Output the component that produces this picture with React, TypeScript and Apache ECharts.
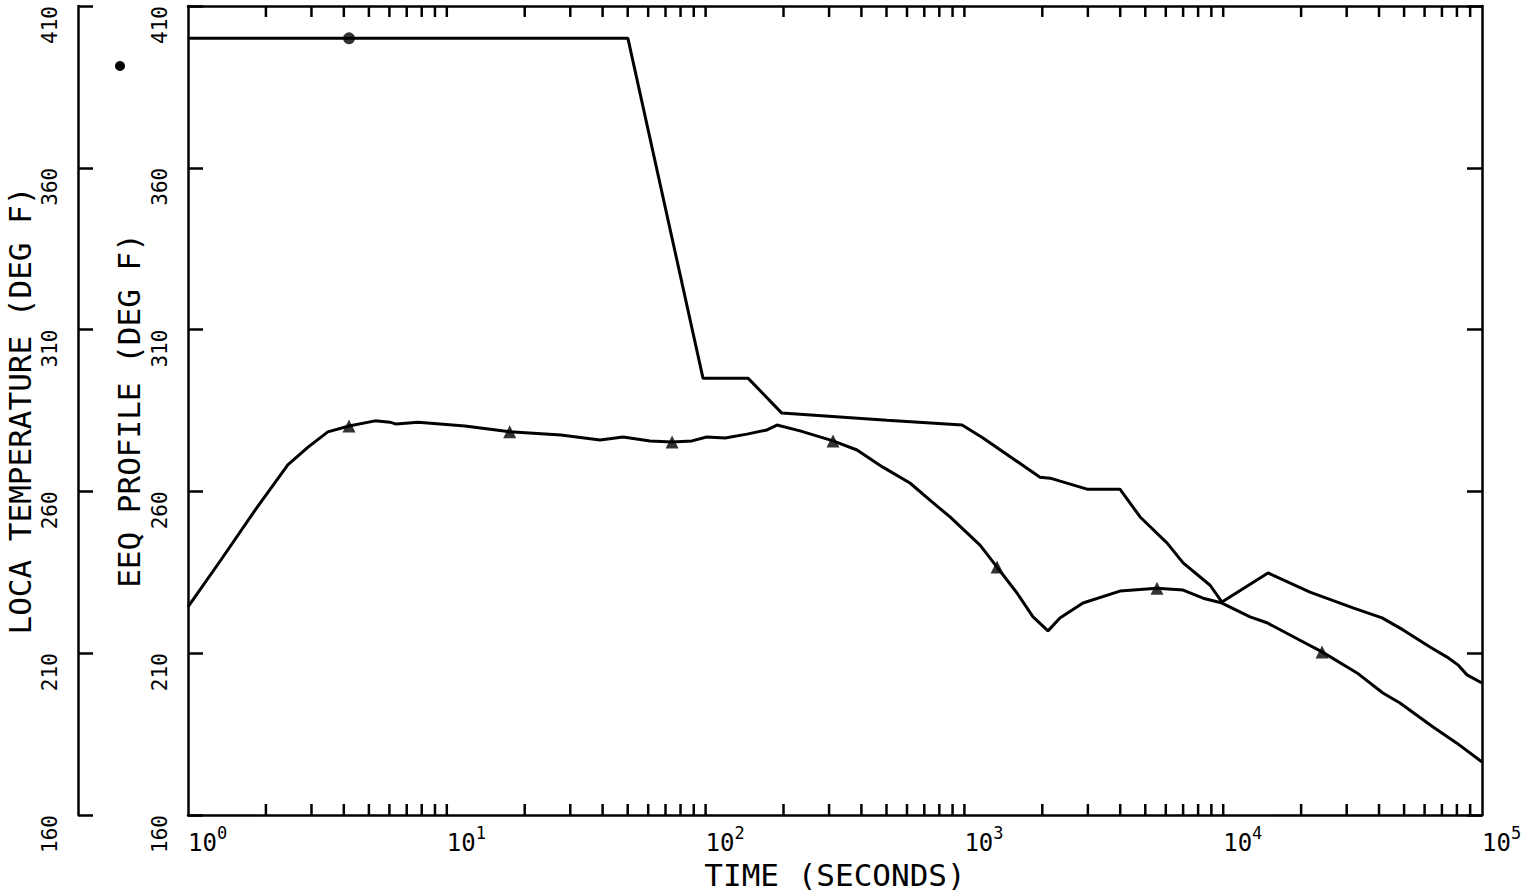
import React, { useEffect, useRef } from "react";
import * as echarts from "echarts";

const FONT = "DejaVu Sans Mono";
const Y_MIN = 160;
const Y_MAX = 410;
const Y_STEP = 50;
const X_MIN = 1;
const X_MAX = 100000;

// EEQ profile (upper curve) [time s, deg F]
const eeqProfile: [number, number][] = [
  [1, 400], [50.1, 400], [97.7, 295], [145.8, 295], [197, 284.2], [502, 282],
  [980, 280.5], [1180, 276.5], [1959, 264.4], [2143, 264.1], [2979, 260.7],
  [3990, 260.7], [4776, 252.1], [6073, 244], [7000, 237.9], [8900, 231],
  [9890, 225.8], [14900, 234.8], [21640, 228.9], [31740, 224], [41100, 220.9],
  [49570, 217.2], [62950, 211.9], [73300, 208.8], [80700, 206.4], [87500, 203.3],
  [100000, 200.8],
];

// LOCA temperature (lower curve)
const locaTemp: [number, number][] = [
  [1, 224.3], [1.34, 238.8], [1.82, 254.3], [2.43, 268.2], [2.91, 273.7],
  [3.47, 278.4], [4.19, 280.2], [5.28, 281.8], [6.03, 281.4], [6.37, 280.8],
  [7.74, 281.4], [11.75, 280.2], [17.5, 278.4], [27.6, 277.4], [39.1, 275.9],
  [48, 276.8], [61, 275.6], [74.2, 275.3], [88.6, 275.6], [101, 276.8],
  [119, 276.5], [144.5, 277.7], [172.7, 279], [188.7, 280.5], [231.7, 278.7],
  [310.7, 275.6], [384.6, 272.8], [484, 267.5], [616, 262.6], [736, 257.3],
  [880, 252.1], [1149, 243.4], [1337, 236.6], [1597, 228.6], [1842, 221.2],
  [2104, 216.9], [2340, 220.9], [2872, 225.5], [3990, 229.2], [5550, 230.1],
  [7000, 229.5], [8360, 227], [9890, 225.5], [12700, 221.2], [14760, 219.4],
  [19800, 214], [24100, 210.4], [32900, 203.9], [41400, 197.7], [48200, 194.6],
  [64700, 187.2], [80000, 182.2], [100000, 176.4],
];

const eeqMarkers: [number, number][] = [[4.19, 400]];
const locaMarkers: [number, number][] = [
  [4.19, 280.2], [17.5, 278.4], [74.2, 275.3], [310.7, 275.6],
  [1337, 236.6], [5550, 230.1], [24100, 210.4],
];

const decades = [1, 10, 100, 1000, 10000];
const multipliers = [1, 2, 3, 4, 5, 6, 7, 8, 9];
const xTicks: number[] = [];
decades.forEach((d) => multipliers.forEach((m) => {
  const v = d * m;
  if (v > X_MIN && v < X_MAX) xTicks.push(v);
}));

const yAxisCommon = {
  type: "value",
  min: Y_MIN,
  max: Y_MAX,
  interval: Y_STEP,
  splitLine: { show: false },
  axisLine: { show: true, lineStyle: { color: "#000", width: 2.5 } },
  axisTick: { show: true, inside: true, length: 15, lineStyle: { color: "#000", width: 2.5 } },
  axisLabel: {
    show: true,
    rotate: 90,
    align: "right",
    verticalAlign: "bottom",
    margin: 18,
    color: "#000",
    fontFamily: FONT,
    fontSize: 21,
  },
  nameLocation: "middle",
  nameRotate: 90,
  nameMoveOverlap: false,
  nameTextStyle: { color: "#000", fontFamily: FONT, fontSize: 31 },
};

export default function App() {
  const ref = useRef<HTMLDivElement>(null);
  useEffect(() => {
    if (!ref.current) return;
    const chart = echarts.init(ref.current, undefined, { renderer: "svg" });
    chart.setOption({
      animation: false,
      backgroundColor: "#fff",
      grid: { left: 188, right: 39, top: 6, bottom: 81, containLabel: false, outerBoundsMode: "none" },
      xAxis: [
        {
          type: "log",
          logBase: 10,
          min: X_MIN,
          max: X_MAX,
          position: "bottom",
          splitLine: { show: false },
          axisLine: { show: true, lineStyle: { color: "#000", width: 2.5 } },
          axisTick: { show: false },
          axisLabel: {
            show: true,
            align: "left",
            margin: 9,
            formatter: (v: number) => `{b|10}{s|${Math.round(Math.log10(v))}}`,
            rich: {
              b: { fontFamily: FONT, fontSize: 24, color: "#000", verticalAlign: "bottom", lineHeight: 31 },
              s: { fontFamily: FONT, fontSize: 17, color: "#000", verticalAlign: "top" },
            },
          },
          name: "TIME (SECONDS)",
          nameLocation: "middle",
          nameGap: 44,
          nameTextStyle: { color: "#000", fontFamily: FONT, fontSize: 31 },
        },
        {
          type: "log",
          logBase: 10,
          min: X_MIN,
          max: X_MAX,
          position: "top",
          splitLine: { show: false },
          axisLine: { show: true, lineStyle: { color: "#000", width: 2.5 } },
          axisTick: { show: false },
          axisLabel: { show: false },
        },
      ],
      yAxis: [
        { ...yAxisCommon, position: "left", offset: 0, name: "EEQ PROFILE (DEG F)", nameGap: 44 },
        { ...yAxisCommon, position: "left", offset: 110, name: "LOCA TEMPERATURE (DEG F)", nameGap: 43 },
        { ...yAxisCommon, position: "right", offset: 0, axisLabel: { show: false }, name: "" },
      ],
      graphic: [
        { type: "circle", shape: { cx: 120, cy: 66, r: 5 }, style: { fill: "#000" } },
      ],
      series: [
        {
          type: "custom",
          xAxisIndex: 0,
          yAxisIndex: 0,
          silent: true,
          data: xTicks.map((t) => [t, Y_MIN]),
          renderItem: (_params: any, api: any) => {
            const t = api.value(0);
            const b = api.coord([t, Y_MIN]);
            const tp = api.coord([t, Y_MAX]);
            const st = { stroke: "#000", lineWidth: 2.5 };
            return {
              type: "group",
              children: [
                { type: "line", shape: { x1: b[0], y1: b[1], x2: b[0], y2: b[1] - 11 }, style: st },
                { type: "line", shape: { x1: tp[0], y1: tp[1], x2: tp[0], y2: tp[1] + 11 }, style: st },
              ],
            };
          },
        },
        {
          name: "EEQ PROFILE",
          type: "line",
          data: eeqProfile,
          showSymbol: false,
          lineStyle: { color: "#000", width: 3 },
          z: 3,
        },
        {
          name: "LOCA TEMPERATURE",
          type: "line",
          data: locaTemp,
          showSymbol: false,
          lineStyle: { color: "#000", width: 3 },
          z: 3,
        },
        {
          type: "scatter",
          data: eeqMarkers,
          symbol: "circle",
          symbolSize: 12,
          itemStyle: { color: "#000" },
          z: 4,
        },
        {
          type: "scatter",
          data: locaMarkers,
          symbol: "triangle",
          symbolSize: 13,
          itemStyle: { color: "#000" },
          z: 4,
        },
      ],
    });
    return () => chart.dispose();
  }, []);
  return (
    <div
      ref={ref}
      style={{ position: "fixed", left: 0, top: 0, width: 1521, height: 896, background: "#fff" }}
    />
  );
}
